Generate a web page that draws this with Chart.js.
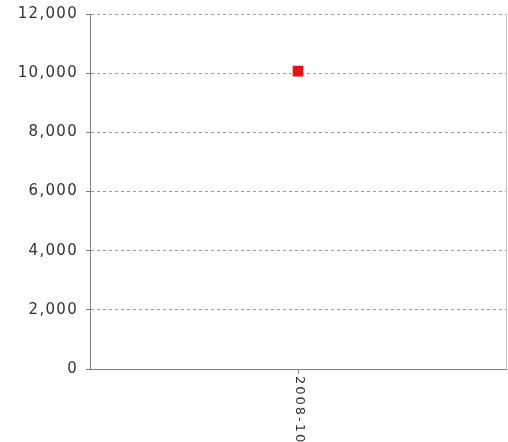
<!DOCTYPE html>
<html>
<head>
<meta charset="utf-8">
<script src="https://cdn.jsdelivr.net/npm/chart.js@4/dist/chart.umd.min.js"></script>
<style>
  html, body { margin: 0; padding: 0; background: #fff; }
  #wrap { width: 508px; height: 442px; }
</style>
</head>
<body>
<div id="wrap"><canvas id="chart" width="508" height="442"></canvas></div>
<script>
// data
const labels = ["2008-10"];
const values = [10070];
const yTicks = [0, 2000, 4000, 6000, 8000, 10000, 12000];

// rotated x labels reading top-to-bottom, plus the right border
const frame = {
  id: "frame",
  beforeDraw(chart) {
    chart.ctx.letterSpacing = "1.3px";
  },
  afterDraw(chart) {
    const ctx = chart.ctx;
    const area = chart.chartArea;
    const x = chart.scales.x;
    ctx.save();
    ctx.strokeStyle = "#c8c8c8";
    ctx.lineWidth = 1;
    ctx.beginPath();
    ctx.moveTo(area.right + 0.5, area.top);
    ctx.lineTo(area.right + 0.5, area.bottom);
    ctx.stroke();
    ctx.fillStyle = "#333";
    ctx.font = "13px 'DejaVu Sans'";
    ctx.letterSpacing = "2px";
    ctx.textAlign = "left";
    ctx.textBaseline = "middle";
    labels.forEach((lab, i) => {
      const px = x.getPixelForTick(i);
      ctx.save();
      ctx.translate(px + 1, area.bottom + 7);
      ctx.rotate(Math.PI / 2);
      ctx.fillText(lab, 0, 0);
      ctx.restore();
    });
    ctx.restore();
  }
};

new Chart(document.getElementById("chart"), {
  type: "line",
  data: {
    labels: labels,
    datasets: [{
      data: values,
      showLine: false,
      pointStyle: "rect",
      pointRadius: 7.5,
      pointHoverRadius: 7.5,
      backgroundColor: "#ee1111",
      borderColor: "#ee1111",
      borderWidth: 0
    }]
  },
  plugins: [frame],
  options: {
    responsive: false,
    animation: false,
    events: [],
    layout: { autoPadding: false, padding: { top: 14, right: 2, left: 0, bottom: 0 } },
    plugins: { legend: { display: false }, tooltip: { enabled: false } },
    scales: {
      x: {
        offset: true,
        grid: { display: true, drawOnChartArea: false, drawTicks: true, tickLength: 5, color: "#888", offset: false },
        border: { display: true, color: "#808080", width: 1 },
        ticks: { display: false },
        afterFit(scale) {
          scale.height = 73;
          scale.paddingLeft = 0;
          scale.paddingRight = 0;
        }
      },
      y: {
        min: 0,
        max: 12000,
        afterBuildTicks(scale) { scale.ticks = yTicks.map(v => ({ value: v })); },
        grid: {
          color: "#999",
          tickColor: "#808080",
          tickLength: 4,
          tickBorderDash: [],
          drawTicks: true
        },
        border: { display: true, color: "#808080", width: 1, dash: [3, 3] },
        ticks: {
          padding: 8,
          color: "#333",
          font: { family: "'DejaVu Sans'", size: 15 },
          callback: v => v.toLocaleString("en-US")
        },
        afterFit(scale) {
          scale.width = 90;
          scale.paddingTop = 0;
          scale.paddingBottom = 0;
        }
      }
    }
  }
});
</script>
</body>
</html>
